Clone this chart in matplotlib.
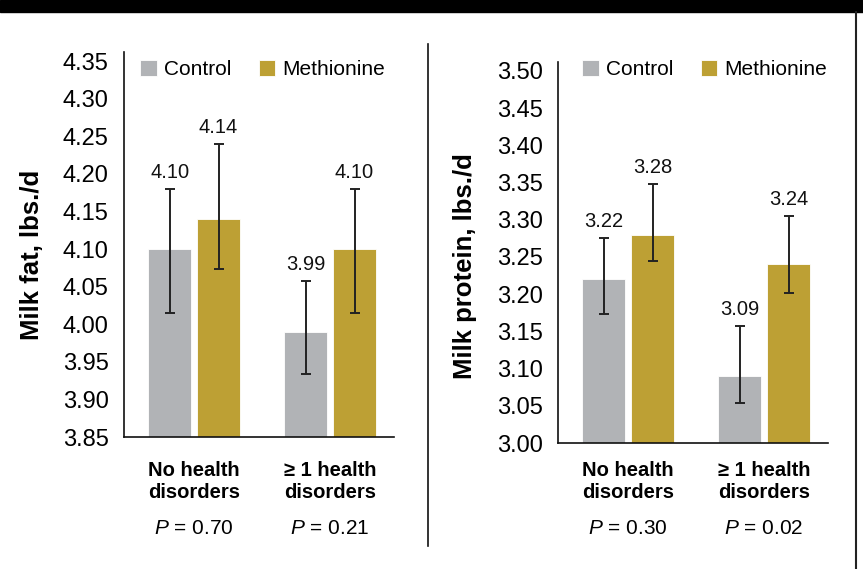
import numpy as np
import matplotlib
matplotlib.use("Agg")
import matplotlib.pyplot as plt
from matplotlib.patches import Rectangle
from matplotlib.lines import Line2D
from matplotlib.transforms import blended_transform_factory

plt.rcParams["font.family"] = ["Liberation Sans", "DejaVu Sans"]
plt.rcParams["mathtext.fontset"] = "custom"
plt.rcParams["mathtext.it"] = "Liberation Sans:italic"
plt.rcParams["mathtext.rm"] = "Liberation Sans"

# ---- data ---------------------------------------------------------------
groups = ["No health\ndisorders", "\u2265 1 health\ndisorders"]
treatments = ["Control", "Methionine"]

fat_control = [4.10, 3.99]
fat_methionine = [4.14, 4.10]
fat_control_lo = [4.015, 3.934]
fat_control_hi = [4.180, 4.057]
fat_methionine_lo = [4.074, 4.015]
fat_methionine_hi = [4.240, 4.180]
fat_p = ["0.70", "0.21"]

protein_control = [3.22, 3.09]
protein_methionine = [3.28, 3.24]
protein_control_lo = [3.173, 3.054]
protein_control_hi = [3.275, 3.157]
protein_methionine_lo = [3.245, 3.202]
protein_methionine_hi = [3.348, 3.305]
protein_p = ["0.30", "0.02"]

GRAY = "#b1b3b6"
GOLD = "#bda034"
W, H = 863, 569


def panel(ax, ctrl, meth, c_lo, c_hi, m_lo, m_hi, pvals, ylim, ticks,
          legend_xy):
    x = np.arange(len(groups))
    w, off = 0.316, 0.18
    series = [(ctrl, c_lo, c_hi, GRAY, -off), (meth, m_lo, m_hi, GOLD, off)]
    handles = []
    for vals, lo, hi, col, dx in series:
        vals, lo, hi = map(np.asarray, (vals, lo, hi))
        b = ax.bar(x + dx, vals - ylim[0], w, bottom=ylim[0], color=col,
                   edgecolor="white", linewidth=0.6, zorder=2)
        handles.append(b)
        ax.errorbar(x + dx, vals, yerr=[vals - lo, hi - vals], fmt="none",
                    ecolor="#222222", elinewidth=1.4, capsize=3.5,
                    capthick=1.4, zorder=3)
        for xi, v, h in zip(x + dx, vals, hi):
            ax.annotate(f"{v:.2f}", (xi, h), xytext=(0, 5),
                        textcoords="offset points", ha="center", va="bottom",
                        fontsize=14.5, color="#111111")

    ax.set_ylim(*ylim)
    ax.set_yticks(ticks)
    ax.set_yticklabels([f"{t:.2f}" for t in ticks], fontsize=17)
    ax.tick_params(axis="y", length=0, pad=11)
    ax.set_xlim(-0.515, 1.47)
    ax.set_xticks([])
    for s in ("top", "right"):
        ax.spines[s].set_visible(False)
    for s in ("left", "bottom"):
        ax.spines[s].set_linewidth(1.2)
        ax.spines[s].set_color("#111111")

    tr = blended_transform_factory(ax.transData, fig.transFigure)
    for xi, g, p in zip(x, groups, pvals):
        ax.text(xi, 1 - 481.5 / H, g, transform=tr, ha="center", va="center",
                fontsize=14.5, fontweight="bold", linespacing=1.15)
        ax.text(xi, 1 - 528 / H, f"$P$ = {p}", transform=tr, ha="center",
                va="center", fontsize=15)

    ax.legend(handles, treatments, loc="upper left", bbox_to_anchor=legend_xy,
              ncol=2, frameon=False, fontsize=15, handlelength=0.8,
              handleheight=0.8, handletextpad=0.35, columnspacing=1.3,
              borderpad=0, borderaxespad=0)


fig = plt.figure(figsize=(W / 100, H / 100), dpi=100)

ax1 = fig.add_axes([124 / W, (H - 437) / H, 270 / W, 385 / H])
panel(ax1, fat_control, fat_methionine, fat_control_lo, fat_control_hi,
      fat_methionine_lo, fat_methionine_hi, fat_p, (3.85, 4.362),
      np.round(np.arange(3.85, 4.351, 0.05), 2), (0.06, 0.98))
fig.text(32 / W, 1 - 255 / H, "Milk fat, lbs./d", rotation=90, ha="center",
         va="center", fontsize=18.5, fontweight="bold")

ax2 = fig.add_axes([558 / W, (H - 443) / H, 270 / W, 381 / H])
panel(ax2, protein_control, protein_methionine, protein_control_lo,
      protein_control_hi, protein_methionine_lo, protein_methionine_hi,
      protein_p, (3.00, 3.512), np.round(np.arange(3.00, 3.501, 0.05), 2),
      (0.09, 1.005))
fig.text(465 / W, 1 - 266 / H, "Milk protein, lbs./d", rotation=90,
         ha="center", va="center", fontsize=18.5, fontweight="bold")

# frame: black band on top, right border, divider between the panels
fig.patches.append(Rectangle((0, 1 - 12 / H), 1, 12 / H, color="black",
                             transform=fig.transFigure, figure=fig))
fig.lines.append(Line2D([856 / W, 856 / W], [0, 1 - 12 / H], color="#222222",
                        lw=1.5, transform=fig.transFigure, figure=fig))
fig.lines.append(Line2D([427.5 / W, 427.5 / W], [1 - 546 / H, 1 - 44 / H],
                        color="#111111", lw=1.2, transform=fig.transFigure,
                        figure=fig))

fig.savefig("out.png", dpi=100)
